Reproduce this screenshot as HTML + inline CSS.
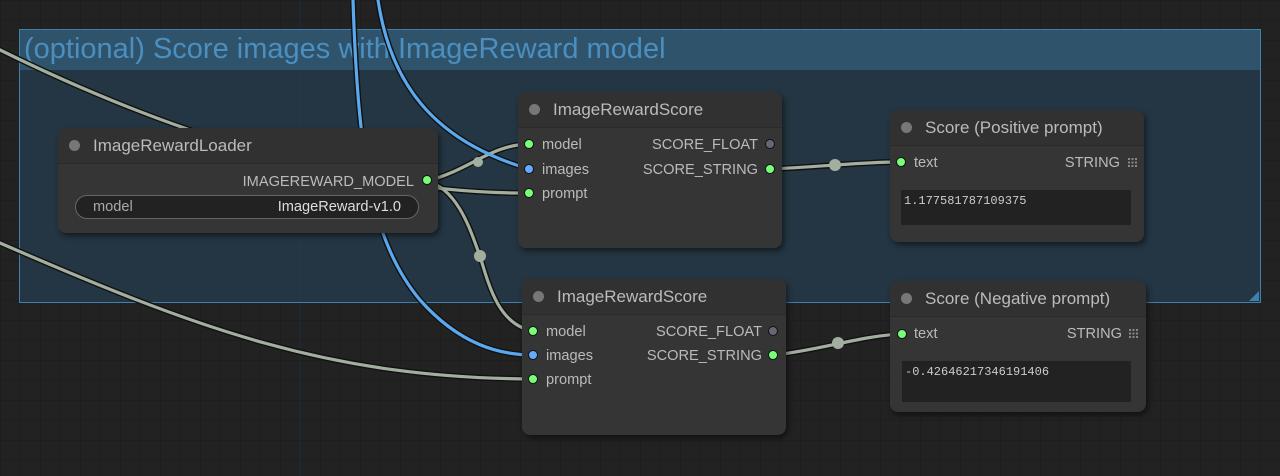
<!DOCTYPE html>
<html><head><meta charset="utf-8"><style>
body{margin:0;width:1280px;height:476px;overflow:hidden;background:#222;font-family:"Liberation Sans",sans-serif}
.n{position:absolute;background:#353535;border-radius:8px;box-shadow:2px 3px 6px rgba(0,0,0,.5)}
.t{height:35px;border-bottom:1px solid #2a2a2a;color:#bbb;font-size:17px;line-height:35px;padding-left:35px;position:relative;background:#313131;border-radius:8px 8px 0 0}
.t:before{content:"";position:absolute;left:11px;top:12px;width:11px;height:11px;border-radius:50%;background:#777}
.s{position:absolute;font-size:14.6px;color:#bbb;line-height:16px}
.d{position:absolute;width:8px;height:8px;border-radius:50%;border:1.5px solid #111}
.g{background:#7f7}.b{background:#6af}.x{background:#667}
.ta{position:absolute;background:#222;color:#ccc;font-family:"Liberation Mono",monospace;font-size:12px;padding:4px 3px;box-sizing:border-box}
.ic{position:absolute;width:9px;height:9px;background:repeating-linear-gradient(90deg,#888 0 2px,transparent 2px 3.5px);-webkit-mask:repeating-linear-gradient(0deg,#000 0 2px,transparent 2px 3.5px);mask:repeating-linear-gradient(0deg,#000 0 2px,transparent 2px 3.5px)}
</style></head><body>
<svg width="1280" height="476" style="position:absolute;left:0;top:0">
<defs><pattern id="gr" width="20" height="20" patternUnits="userSpaceOnUse"><path d="M20 0H0V20" fill="none" stroke="#1b1b1b" stroke-width="1"/></pattern></defs>
<rect width="1280" height="476" fill="url(#gr)"/>
<line x1="300" y1="0" x2="300" y2="476" stroke="#1d2836" stroke-width="1.5"/>
<rect x="19.5" y="29.5" width="1241" height="273" fill="#253846" fill-opacity=".92" stroke="#3f7fae"/>
<rect x="20" y="30" width="1240" height="40" fill="#30536c"/>
<path d="M1259 291L1259 301L1249 301Z" fill="#3f7fae"/>
<text x="24" y="58" font-family="Liberation Sans" font-size="29" fill="#4a8fc0">(optional) Score images with ImageReward model</text>
<g fill="none" stroke-linecap="round">
<g stroke="#111" stroke-width="6">
<path d="M-10,45 C200,150 380,192 518,193"/>
<path d="M0,243 C200,330 330,378 533,379"/>
<path d="M427,181 C470,170 490,145 529,144"/>
<path d="M427,181 C460,190 472,236 480,256 C490,290 500,325 533,331"/>
<path d="M378,0 C390,80 430,140 529,169"/>
<path d="M353,0 C358,150 370,240 420,300 C460,345 500,355 533,355"/>
<path d="M770,169 C820,167 860,162 901,162"/>
<path d="M774,355 C820,350 860,336 901,334"/>
</g>
<g stroke="#a2ae9f" stroke-width="3.2">
<path d="M-10,45 C200,150 380,192 518,193"/>
<path d="M0,243 C200,330 330,378 533,379"/>
<path d="M427,181 C470,170 490,145 529,144"/>
<path d="M427,181 C460,190 472,236 480,256 C490,290 500,325 533,331"/>
<path d="M770,169 C820,167 860,162 901,162"/>
<path d="M774,355 C820,350 860,336 901,334"/>
</g>
<g stroke="#5aa9ee" stroke-width="3.2">
<path d="M378,0 C390,80 430,140 529,169"/>
<path d="M353,0 C358,150 370,240 420,300 C460,345 500,355 533,355"/>
</g>
</g>
<g fill="#a2ae9f"><circle cx="478" cy="162" r="5"/><circle cx="480" cy="256" r="6"/><circle cx="835" cy="165" r="6"/><circle cx="838" cy="343" r="6"/></g>
</svg>

<div class="n" style="left:58px;top:128px;width:380px;height:105px">
<div class="t">ImageRewardLoader</div>
<div class="s" style="right:24px;top:46px">IMAGEREWARD_MODEL</div><div class="d g" style="left:364px;top:47px"></div>
<div style="position:absolute;left:17px;top:67px;width:342px;height:22px;background:#222;border:1px solid #666;border-radius:12px;font-size:14.6px;line-height:22px;color:#aaa"><span style="position:absolute;left:17px">model</span><span style="position:absolute;right:17px;color:#ddd">ImageReward-v1.0</span></div>
</div>

<div class="n" style="left:518px;top:92px;width:264px;height:156px">
<div class="t">ImageRewardScore</div>
<div class="d g" style="left:6px;top:47px"></div><div class="s" style="left:24px;top:45px">model</div>
<div class="d b" style="left:6px;top:72px"></div><div class="s" style="left:24px;top:70px">images</div>
<div class="d g" style="left:6px;top:96px"></div><div class="s" style="left:24px;top:94px">prompt</div>
<div class="s" style="right:24px;top:45px">SCORE_FLOAT</div><div class="d x" style="left:247px;top:47px"></div>
<div class="s" style="right:24px;top:70px">SCORE_STRING</div><div class="d g" style="left:247px;top:72px"></div>
</div>

<div class="n" style="left:522px;top:279px;width:264px;height:156px">
<div class="t">ImageRewardScore</div>
<div class="d g" style="left:6px;top:47px"></div><div class="s" style="left:24px;top:45px">model</div>
<div class="d b" style="left:6px;top:71px"></div><div class="s" style="left:24px;top:69px">images</div>
<div class="d g" style="left:6px;top:95px"></div><div class="s" style="left:24px;top:93px">prompt</div>
<div class="s" style="right:24px;top:45px">SCORE_FLOAT</div><div class="d x" style="left:246px;top:47px"></div>
<div class="s" style="right:24px;top:69px">SCORE_STRING</div><div class="d g" style="left:246px;top:71px"></div>
</div>

<div class="n" style="left:890px;top:110px;width:254px;height:132px">
<div class="t">Score (Positive prompt)</div>
<div class="d g" style="left:6px;top:47px"></div><div class="s" style="left:24px;top:45px">text</div>
<div class="s" style="right:24px;top:45px">STRING</div><div class="ic" style="left:238px;top:48px"></div>
<div class="ta" style="left:11px;top:80px;width:230px;height:35px">1.177581787109375</div>
</div>

<div class="n" style="left:890px;top:281px;width:256px;height:131px">
<div class="t">Score (Negative prompt)</div>
<div class="d g" style="left:7px;top:48px"></div><div class="s" style="left:24px;top:45px">text</div>
<div class="s" style="right:24px;top:45px">STRING</div><div class="ic" style="left:239px;top:48px"></div>
<div class="ta" style="left:12px;top:80px;width:229px;height:41px">-0.42646217346191406</div>
</div>
</body></html>
